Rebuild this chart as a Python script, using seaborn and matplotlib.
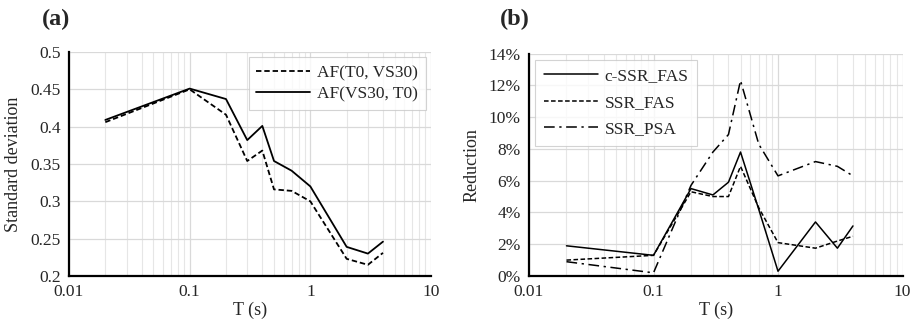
import numpy as np
import pandas as pd
import matplotlib
matplotlib.use("Agg")
import matplotlib.pyplot as plt
import seaborn as sns
from matplotlib.ticker import FixedLocator, FuncFormatter, LogLocator, NullFormatter

# ---- data ----
periods = [0.02, 0.1, 0.2, 0.3, 0.4, 0.5, 0.7, 1, 2, 3, 4]
af_t0_vs30 = [0.406, 0.450, 0.416, 0.354, 0.368, 0.316, 0.314, 0.300, 0.223, 0.215, 0.231]
af_vs30_t0 = [0.409, 0.451, 0.437, 0.382, 0.401, 0.354, 0.341, 0.320, 0.239, 0.230, 0.246]

c_ssr_fas = [1.9, 1.3, 5.5, 5.1, 5.9, 7.8, 4.2, 0.3, 3.4, 1.75, 3.15]
ssr_fas = [1.0, 1.3, 5.3, 5.0, 5.0, 6.9, 4.3, 2.1, 1.75, 2.2, 2.5]
ssr_psa = [0.9, 0.2, 5.7, 7.8, 8.9, 12.3, 8.3, 6.3, 7.2, 6.9, 6.3]

a_labels = ["AF(T0, VS30)", "AF(VS30, T0)"]
b_labels = ["c-SSR_FAS", "SSR_FAS", "SSR_PSA"]

df_a = pd.DataFrame({"T": periods * 2,
                     "val": af_t0_vs30 + af_vs30_t0,
                     "series": [a_labels[0]] * len(periods) + [a_labels[1]] * len(periods)})
df_b = pd.DataFrame({"T": periods * 3,
                     "val": c_ssr_fas + ssr_fas + ssr_psa,
                     "series": sum([[l] * len(periods) for l in b_labels], [])})

sns.set_style("white")
plt.rcParams["font.family"] = ["Liberation Serif", "DejaVu Serif"]
plt.rcParams["font.size"] = 12

fig = plt.figure(figsize=(9.16, 3.28), dpi=100)
W, H = 916, 328
ax1 = fig.add_axes([69 / W, 1 - 276 / H, (431 - 69) / W, (276 - 52) / H])
ax2 = fig.add_axes([529 / W, 1 - 276 / H, (902.5 - 529) / W, (276 - 53.5) / H])

dash_a = {a_labels[0]: (3, 1.6), a_labels[1]: ""}
sns.lineplot(data=df_a, x="T", y="val", hue="series", style="series",
             palette={l: "black" for l in a_labels}, dashes=dash_a,
             linewidth=1.3, ax=ax1, legend=True)
dash_b = {b_labels[0]: "", b_labels[1]: (3, 1.6), b_labels[2]: (7, 3, 1.5, 3)}
sns.lineplot(data=df_b, x="T", y="val", hue="series", style="series",
             palette={l: "black" for l in b_labels}, dashes=dash_b,
             linewidth=1.1, ax=ax2, legend=True)

for ax in (ax1, ax2):
    ax.set_xscale("log")
    ax.set_xlim(0.01, 10)
    ax.xaxis.set_major_locator(FixedLocator([0.01, 0.1, 1, 10]))
    ax.xaxis.set_major_formatter(FuncFormatter(lambda v, p: f"{v:g}"))
    ax.xaxis.set_minor_locator(LogLocator(base=10, subs=np.arange(2, 10)))
    ax.xaxis.set_minor_formatter(NullFormatter())
    ax.grid(True, which="major", color="#d9d9d9", linewidth=0.9)
    ax.grid(True, which="minor", axis="x", color="#e6e6e6", linewidth=0.8)
    for s in ("top", "right"):
        ax.spines[s].set_visible(False)
    for s in ("left", "bottom"):
        ax.spines[s].set_color("black")
        ax.spines[s].set_linewidth(1.6)
    ax.tick_params(axis="both", which="both", length=0, labelsize=12.5, pad=6)
    ax.set_xlabel("T (s)", fontsize=13, labelpad=1)

ax1.set_ylim(0.2, 0.5)
ax1.yaxis.set_major_locator(FixedLocator([0.2, 0.25, 0.3, 0.35, 0.4, 0.45, 0.5]))
ax1.yaxis.set_major_formatter(FuncFormatter(lambda v, p: f"{v:g}"))
ax1.set_ylabel("Standard deviation", fontsize=13, labelpad=6)

ax2.set_ylim(0, 14)
ax2.yaxis.set_major_locator(FixedLocator(list(range(0, 15, 2))))
ax2.yaxis.set_major_formatter(FuncFormatter(lambda v, p: f"{v:.0f}%"))
ax2.set_ylabel("Reduction", fontsize=13, labelpad=6)

leg1 = ax1.legend(loc="upper right", fontsize=12.5, frameon=True, fancybox=False,
                  edgecolor="#c8c8c8", handlelength=3.1, borderaxespad=0.3,
                  borderpad=0.45, labelspacing=0.3, handletextpad=0.4)
leg1.get_frame().set_linewidth(0.8)
leg2 = ax2.legend(loc="upper left", fontsize=12.5, frameon=True, fancybox=False,
                  edgecolor="#c8c8c8", handlelength=3.1, borderaxespad=0.35,
                  borderpad=0.5, labelspacing=0.6, handletextpad=0.4)
leg2.get_frame().set_linewidth(0.8)

fig.text(42 / W, 1 - 19 / H, "(a)", fontsize=17.5, fontweight="bold", va="center", ha="left")
fig.text(500 / W, 1 - 19 / H, "(b)", fontsize=17.5, fontweight="bold", va="center", ha="left")

fig.savefig("out.png", dpi=100)
